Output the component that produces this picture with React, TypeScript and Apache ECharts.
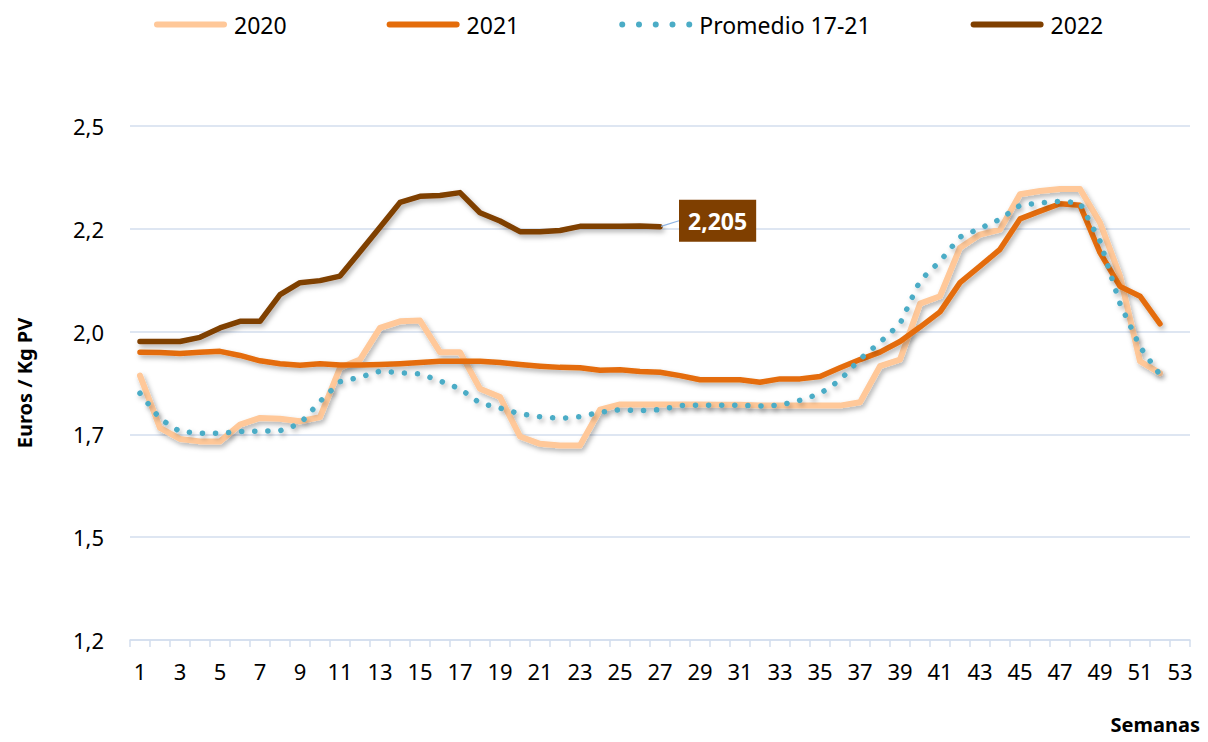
import React, { useEffect, useRef } from "react";
import * as echarts from "echarts";

const weeks: string[] = Array.from({ length: 53 }, (_, i) => String(i + 1));

const yTickLabels = ["1,2", "1,5", "1,7", "2,0", "2,2", "2,5"];

const s2020 = [
  1.843, 1.716, 1.689, 1.683, 1.683, 1.724, 1.74, 1.738, 1.732, 1.742,
  1.862, 1.882, 1.959, 1.975, 1.977, 1.9, 1.9, 1.811, 1.791, 1.695,
  1.677, 1.673, 1.673, 1.76, 1.773, 1.773, 1.773, 1.773, 1.773, 1.772,
  1.772, 1.77, 1.77, 1.77, 1.77, 1.77, 1.778, 1.866, 1.882, 2.018,
  2.036, 2.154, 2.186, 2.198, 2.284, 2.292, 2.297, 2.297, 2.215, 2.085,
  1.878, 1.849,
];

const s2021 = [
  1.9, 1.899, 1.897, 1.9, 1.902, 1.892, 1.879, 1.872, 1.868, 1.872,
  1.869, 1.869, 1.87, 1.872, 1.875, 1.878, 1.878, 1.878, 1.875, 1.87,
  1.866, 1.863, 1.862, 1.856, 1.857, 1.853, 1.851, 1.843, 1.833, 1.833,
  1.833, 1.827, 1.835, 1.835, 1.841, 1.862, 1.882, 1.9, 1.926, 1.961,
  1.998, 2.069, 2.109, 2.15, 2.224, 2.243, 2.261, 2.257, 2.142, 2.06,
  2.036, 1.969,
];

const sProm = [
  1.8, 1.738, 1.707, 1.703, 1.703, 1.707, 1.708, 1.709, 1.726, 1.78,
  1.828, 1.839, 1.854, 1.85, 1.847, 1.83, 1.811, 1.776, 1.764, 1.75,
  1.743, 1.739, 1.743, 1.754, 1.76, 1.758, 1.76, 1.77, 1.771, 1.771,
  1.771, 1.769, 1.771, 1.783, 1.799, 1.832, 1.883, 1.924, 1.969, 2.074,
  2.121, 2.18, 2.201, 2.223, 2.257, 2.263, 2.267, 2.263, 2.17, 2.018,
  1.913, 1.845,
];

const s2022 = [
  1.926, 1.926, 1.926, 1.936, 1.959, 1.975, 1.975, 2.04, 2.069, 2.074,
  2.085, 2.144, 2.204, 2.264, 2.279, 2.281, 2.288, 2.239, 2.219, 2.193,
  2.193, 2.196, 2.206, 2.206, 2.206, 2.207, 2.205,
];

const lastLabel = "2,205";

const FONT = "'Noto Sans', 'Open Sans', sans-serif";
const shadow = {
  shadowColor: "rgba(0,0,0,0.3)",
  shadowBlur: 5,
  shadowOffsetX: 2,
  shadowOffsetY: 3,
};

// legend icons: capsule line and a row of dots
const capsule = "path://M3,0 L70,0 A3,3 0 0,1 70,6 L3,6 A3,3 0 0,1 3,0 Z";
const dotXs = [3, 19.75, 36.5, 53.25, 70];
const dots =
  "path://" +
  dotXs
    .map((cx) => `M${cx - 3},3 A3,3 0 1,1 ${cx + 3},3 A3,3 0 1,1 ${cx - 3},3 Z`)
    .join(" ");

export default function App() {
  const ref = useRef<HTMLDivElement>(null);
  useEffect(() => {
    if (!ref.current) return;
    const chart = echarts.init(ref.current, undefined, { renderer: "svg" });
    const last = s2022.length - 1;
    chart.setOption({
      animation: false,
      backgroundColor: "#ffffff",
      textStyle: { fontFamily: FONT },
      legend: {
        top: 8,
        left: 149,
        itemWidth: 73,
        itemHeight: 6,
        itemGap: 100,
        textStyle: { fontSize: 23, color: "#000", fontFamily: FONT, padding: [0, 0, 0, 2] },
        data: [
          { name: "2020", icon: capsule },
          { name: "2021", icon: capsule },
          { name: "Promedio 17-21", icon: dots },
          { name: "2022", icon: capsule },
        ],
      },
      grid: { left: 130, right: 18, top: 126, bottom: 102 },
      xAxis: {
        type: "category",
        data: weeks,
        boundaryGap: true,
        axisLine: { lineStyle: { color: "#D3DEEE", width: 1.5 } },
        axisTick: {
          show: true,
          interval: 0,
          length: 7,
          alignWithLabel: false,
          lineStyle: { color: "#D3DEEE", width: 1.5 },
        },
        axisLabel: {
          interval: 1,
          margin: 20,
          fontSize: 22,
          color: "#000",
          fontFamily: FONT,
        },
        splitLine: { show: false },
      },
      yAxis: {
        type: "value",
        min: 1.2,
        max: 2.45,
        interval: 0.25,
        name: "Euros / Kg PV",
        nameLocation: "middle",
        nameGap: 96,
        nameTextStyle: {
          fontSize: 20,
          fontWeight: "bold",
          color: "#000",
          fontFamily: FONT,
        },
        axisLine: { show: false },
        axisTick: { show: false },
        axisLabel: {
          margin: 26,
          fontSize: 22,
          color: "#000",
          fontFamily: FONT,
          formatter: (v: number) =>
            yTickLabels[Math.round((v - 1.2) / 0.25)] ?? "",
        },
        splitLine: { lineStyle: { color: "#D3DEEE", width: 1.5 } },
      },
      graphic: [
        {
          type: "text",
          right: 8,
          top: 714,
          style: {
            text: "Semanas",
            font: `bold 20px ${FONT}`,
            fill: "#000",
          },
        },
      ],
      series: [
        {
          name: "2020",
          type: "line",
          data: s2020,
          symbol: "none",
          color: "#FFC899",
          lineStyle: { width: 6, color: "#FFC899", cap: "round", join: "round", ...shadow },
        },
        {
          name: "2021",
          type: "line",
          data: s2021,
          symbol: "none",
          color: "#E46C0A",
          lineStyle: { width: 5.5, color: "#E46C0A", cap: "round", join: "round", ...shadow },
        },
        {
          name: "Promedio 17-21",
          type: "line",
          data: sProm,
          symbol: "none",
          color: "#4BACC6",
          lineStyle: {
            width: 5.5,
            color: "#4BACC6",
            type: [0.1, 13],
            cap: "round",
            join: "round",
            ...shadow,
          },
        },
        {
          name: "2022",
          type: "line",
          showSymbol: true,
          symbol: "none",
          data: s2022.map((v, i) =>
            i === last
              ? {
                  value: v,
                  symbol: "circle",
                  symbolSize: 2,
                  itemStyle: { color: "#7F3F00", borderWidth: 0 },
                  label: {
                    show: true,
                    position: "right",
                    distance: 4,
                    formatter: lastLabel,
                    color: "#fff",
                    fontWeight: "bold",
                    fontSize: 23,
                    fontFamily: FONT,
                    backgroundColor: "#7F3F00",
                    padding: [10, 9, 9, 9],
                  },
                  labelLine: {
                    show: true,
                    lineStyle: { color: "#8EB4E3", width: 1.2 },
                  },
                }
              : v
          ),
          color: "#7F3F00",
          labelLayout: { dx: 14, dy: -6 },
          lineStyle: { width: 5.5, color: "#7F3F00", cap: "round", join: "round", ...shadow },
        },
      ],
    });
    return () => chart.dispose();
  }, []);
  return <div ref={ref} style={{ width: 1208, height: 742, margin: -8 }} />;
}
